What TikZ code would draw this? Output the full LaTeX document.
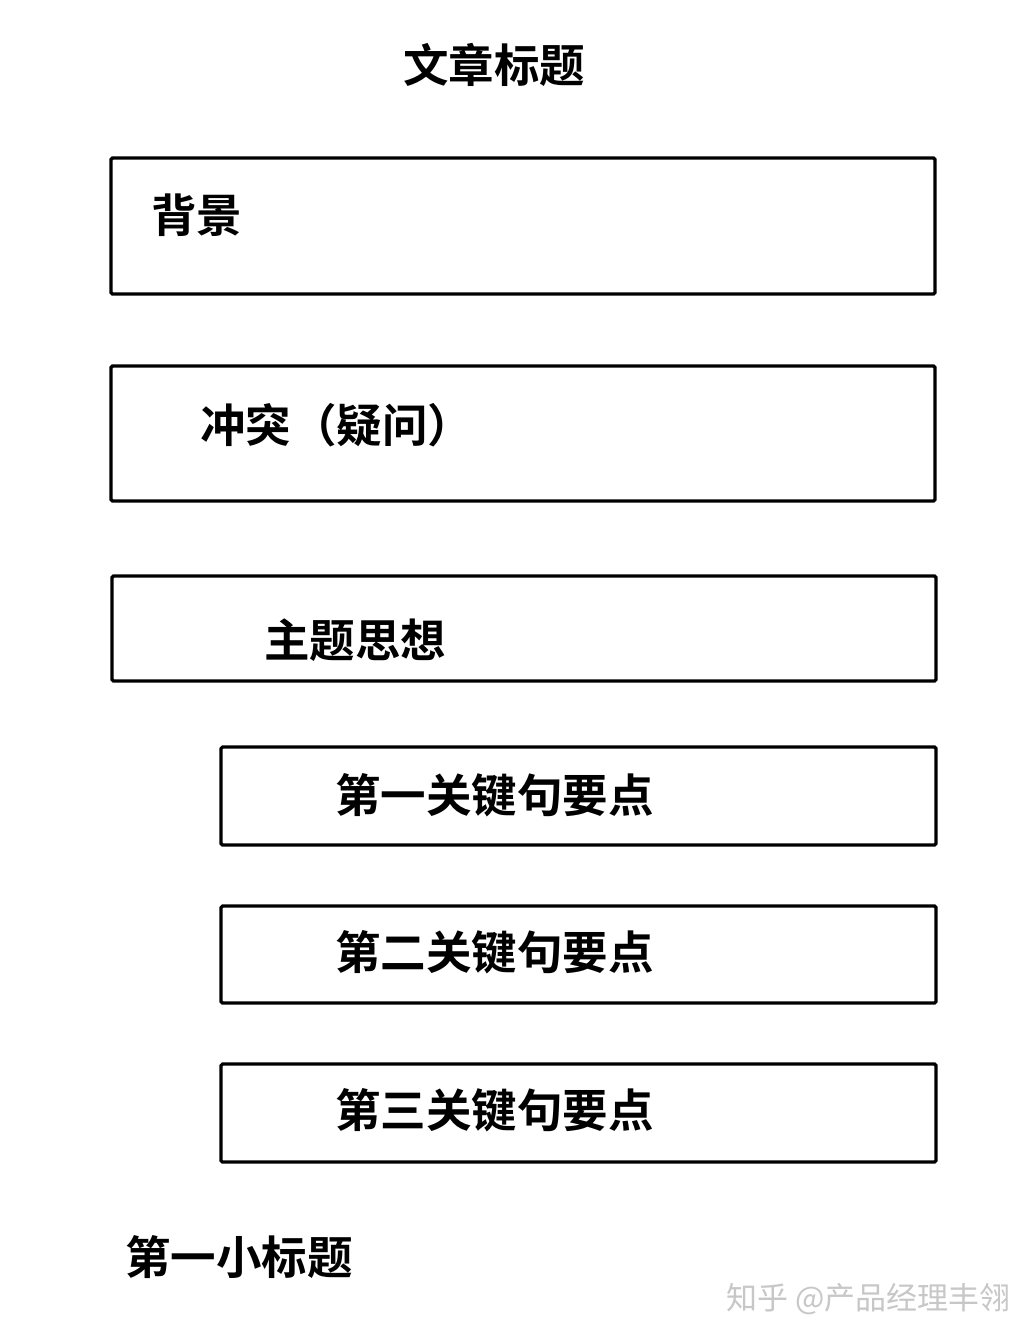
\documentclass[tikz,border=0pt]{standalone}
\usepackage{fontspec}
\setmainfont{Noto Sans CJK SC}[BoldFont=* Bold]
\begin{document}
\begin{tikzpicture}[x=1pt,y=-1pt,
  box/.style={draw=black,line width=3.2pt,rounded corners=1.5pt},
  lbl/.style={anchor=west,inner sep=0pt,font=\fontsize{45.5}{50}\selectfont\bfseries},
  ttl/.style={inner sep=0pt,font=\fontsize{45.5}{50}\selectfont\bfseries},
  wm/.style={anchor=west,inner sep=0pt,text=black!22,font=\fontsize{31}{35}\selectfont}]
\useasboundingbox[fill=white] (0,0) rectangle (1036,1342);
\node[ttl] (title) at (494,65) {文章标题};
\draw[box] (111,158) rectangle (935,294);
\node[lbl] (bg) at (151,215) {背景};
\draw[box] (111,366) rectangle (935,501);
\node[lbl] (conf) at (200,425) {冲突（疑问）};
\draw[box] (112,576) rectangle (936,681);
\node[lbl] (theme) at (264,640) {主题思想};
\draw[box] (221,747) rectangle (936,845);
\node[lbl] (k1) at (335,795) {第一关键句要点};
\draw[box] (221,906) rectangle (936,1003);
\node[lbl] (k2) at (335,952) {第二关键句要点};
\draw[box] (221,1064) rectangle (936,1162);
\node[lbl] (k3) at (335,1110) {第三关键句要点};
\node[lbl] (sub) at (125,1257) {第一小标题};
\node[wm] (mark) at (726,1299) {知乎 @产品经理丰翎};
\end{tikzpicture}
\end{document}
